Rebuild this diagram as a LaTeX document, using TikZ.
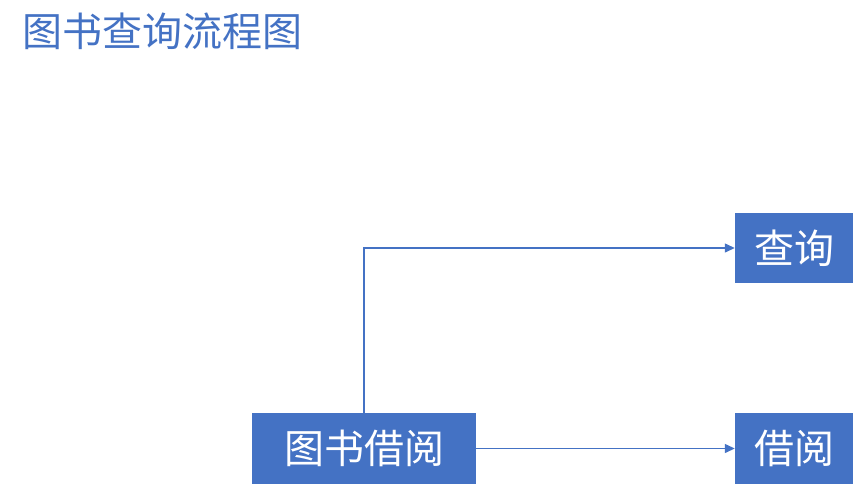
\documentclass[tikz,border=0pt]{standalone}
\usepackage{fontspec}
\setmainfont{Noto Sans CJK SC}
\usetikzlibrary{arrows.meta}
\definecolor{boxblue}{HTML}{4472C4}
\tikzset{
	block/.style={fill=boxblue,text=white,inner sep=0pt,minimum height=71pt,font=\fontsize{40}{40}\selectfont},
	link/.style={draw=boxblue,line width=1.3pt}
}
\begin{document}
\begin{tikzpicture}[x=1pt,y=-1pt,>={Triangle[length=10pt,width=9pt]}]
	\useasboundingbox (0,0) rectangle (855,488);

	%% Title
	\node [anchor=west,inner sep=0pt,text=boxblue,font=\fontsize{40}{40}\selectfont] (title) at (22,31) {图书查询流程图};

	%% Boxes
	\node [block,minimum width=224pt] (borrowbook) at (364,448.5) {图书借阅};
	\node [block,minimum width=118pt,minimum height=70pt] (query) at (794,248) {查询};
	\node [block,minimum width=118pt] (borrow) at (794,448.5) {借阅};

	%% Links
	\draw [link,->] (borrowbook.north) |- (query.west);
	\draw [link,->] (borrowbook.east) -- (borrow.west);
\end{tikzpicture}
\end{document}
